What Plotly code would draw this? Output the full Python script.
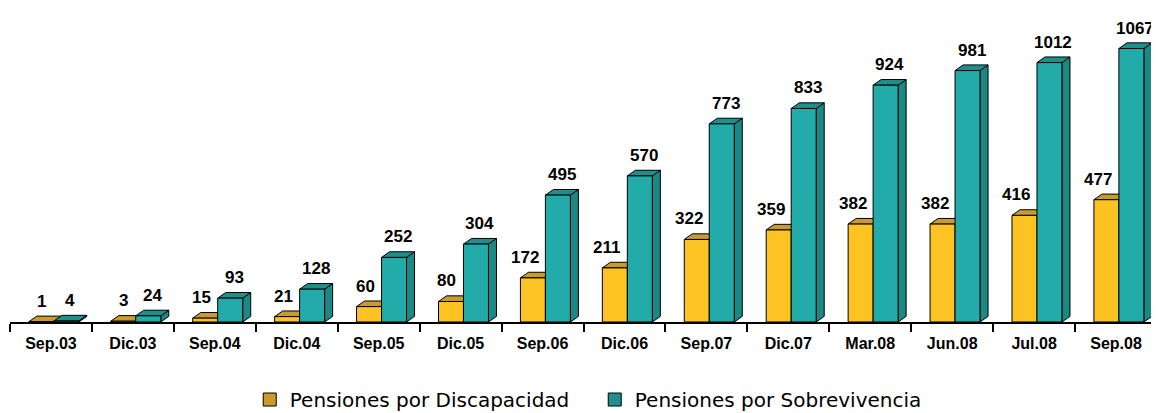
import plotly.graph_objects as go

periodos = ["Sep.03", "Dic.03", "Sep.04", "Dic.04", "Sep.05", "Dic.05", "Sep.06",
            "Dic.06", "Sep.07", "Dic.07", "Mar.08", "Jun.08", "Jul.08", "Sep.08"]
discapacidad = [1, 3, 15, 21, 60, 80, 172, 211, 322, 359, 382, 382, 416, 477]
sobrevivencia = [4, 24, 93, 128, 252, 304, 495, 570, 773, 833, 924, 981, 1012, 1067]

# colores: frente, tapa, costado
amarillo = ("#FCC322", "#C99A2D", "#B38824")
verde = ("#22ABA9", "#1E8F8B", "#1A8884")

ancho = 0.305   # ancho de cada barra (en categorias)
desp = 0.27     # desplazamiento de la barra amarilla respecto al centro
dx = 0.098      # profundidad horizontal del efecto 3D
dy = 22         # profundidad vertical (unidades del eje y)
ymax = 1186

xs = list(range(len(periodos)))
fig = go.Figure()

series = [
    ("Pensiones por Discapacidad", discapacidad, amarillo, -desp),
    ("Pensiones por Sobrevivencia", sobrevivencia, verde, -desp + ancho),
]

for nombre, vals, col, off in series:
    fig.add_trace(go.Bar(
        x=xs, y=vals, offset=off, width=ancho,
        marker=dict(color=col[0], line=dict(color="black", width=1)),
        showlegend=False, hoverinfo="skip",
    ))

shapes = []
annotations = []
for i in xs:
    for nombre, vals, col, off in series:
        v = vals[i]
        x0 = i + off
        x1 = x0 + ancho
        tapa = (f"M {x0},{v} L {x0 + dx},{v + dy} L {x1 + dx},{v + dy} "
                f"L {x1},{v} Z")
        costado = (f"M {x1},0 L {x1 + dx},{dy} L {x1 + dx},{v + dy} "
                   f"L {x1},{v} Z")
        for p, c in ((costado, col[2]), (tapa, col[1])):
            shapes.append(dict(type="path", path=p, xref="x", yref="y",
                               fillcolor=c, line=dict(color="black", width=1),
                               layer="below"))

fuente_val = dict(family="Liberation Sans", size=17, color="black", weight="bold")
for i in xs:
    v = discapacidad[i]
    t = str(v)
    annotations.append(dict(
        x=i - desp + ancho / 2, y=v, text=t, showarrow=False,
        yanchor="bottom", yshift=9, xshift=-4 * (len(t) - 1), font=fuente_val))
    v = sobrevivencia[i]
    annotations.append(dict(
        x=i - desp + ancho * 1.5 + dx / 2, y=v, text=str(v), showarrow=False,
        yanchor="bottom", yshift=9, font=fuente_val))

# entradas de leyenda
for nombre, vals, col, off in series:
    fig.add_trace(go.Scatter(
        x=[None], y=[None], mode="markers", name=nombre,
        marker=dict(symbol="square", size=13, color=col[1],
                    line=dict(color="black", width=1)),
    ))

fig.update_layout(
    width=1151, height=413,
    margin=dict(l=2, r=2, t=10, b=85),
    plot_bgcolor="white", paper_bgcolor="white",
    barmode="overlay",
    shapes=shapes, annotations=annotations,
    xaxis=dict(
        range=[-0.5, 13.5], tickvals=xs, ticktext=periodos,
        ticks="", showgrid=False, zeroline=False,
        showline=True, linecolor="black", linewidth=2,
        ticklabelstandoff=6,
        tickfont=dict(family="Liberation Sans", size=16, color="black", weight="bold"),
        minor=dict(tickvals=[i - 0.5 for i in range(len(periodos) + 1)],
                   ticks="outside", ticklen=8, tickwidth=2, tickcolor="black",
                   showgrid=False),
    ),
    yaxis=dict(range=[0, ymax], visible=False, showgrid=False, zeroline=False),
    legend=dict(orientation="h", x=0.209, xanchor="left", y=-0.255, yanchor="middle",
                font=dict(family="DejaVu Sans", size=20, color="black"),
                entrywidth=300, entrywidthmode="pixels", tracegroupgap=0),
)

fig.write_html("out.html")
